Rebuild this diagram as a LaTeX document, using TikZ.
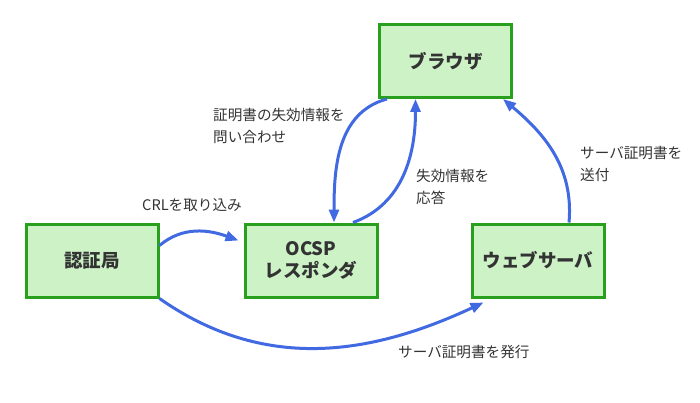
\documentclass[tikz,border=0pt]{standalone}
\usepackage{fontspec}
\setmainfont{Noto Sans CJK JP}
\usepackage{tikz}
\usetikzlibrary{arrows.meta,positioning}
\definecolor{boxfill}{RGB}{204,242,198}
\definecolor{boxedge}{RGB}{40,160,30}
\definecolor{flowblue}{RGB}{65,105,225}
\definecolor{txtgray}{RGB}{51,51,51}

\begin{document}
\begin{tikzpicture}[x=1pt,y=1pt,>={Triangle[length=13pt,width=10pt]},
    node distance=84pt,
    box/.style={rectangle,draw=boxedge,fill=boxfill,line width=3pt,
      minimum width=132pt,minimum height=73pt,align=center,text=txtgray,
      font=\fontsize{18.5}{22}\selectfont\bfseries},
    flow/.style={->,flowblue,line width=3pt},
    note/.style={anchor=west,align=left,text=txtgray,inner sep=0pt,
      font=\fontsize{14.6}{22}\selectfont}]
    \useasboundingbox (0,0) rectangle (700,402);
    \node[box] (ca) at (92,141.5) {認証局};
    \node[box,right=84pt of ca] (ocsp) {OCSP\\レスポンダ};
    \node[box,right=92pt of ocsp] (web) {ウェブサーバ};
    \node[box] (browser) at (445.5,341) {ブラウザ};
    % labels
    \node[note] (askq) at (213,276) {証明書の失効情報を\\問い合わせ};
    \node[note] (reply) at (416,215) {失効情報を\\応答};
    \node[note] (send) at (580,238) {サーバ証明書を\\送付};
    \node[note] (crl) at (142,197) {CRLを取り込み};
    \node[note] (issue) at (398,50) {サーバ証明書を発行};
    % connectors
    \draw[flow] ([xshift=9pt]browser.south west) to[out=195,in=90] ([xshift=23pt]ocsp.north);
    \draw[flow] ([xshift=42pt]ocsp.north) to[out=20,in=-90] ([xshift=-30pt]browser.south);
    \draw[flow] ([xshift=31pt]web.north) to[out=85,in=-40] ([xshift=-10pt]browser.south east);
    \draw[flow] ([yshift=15pt]ca.east) to[out=40,in=160] ([xshift=-5pt,yshift=20pt]ocsp.west);
    \draw[flow] (ca.south east) to[out=-35,in=205] ([xshift=13pt,yshift=-4pt]web.south west);
\end{tikzpicture}
\end{document}
